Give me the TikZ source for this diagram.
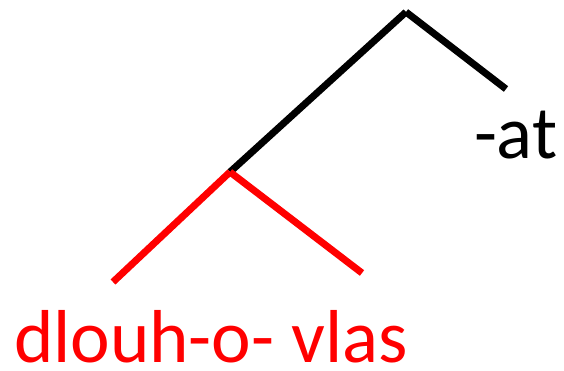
\documentclass[tikz,border=0pt]{standalone}
\usepackage{fontspec}
\setmainfont{Carlito}
\begin{document}
\begin{tikzpicture}[x=1pt,y=-1pt,
  branch/.style={line width=7pt,line cap=butt},
  lbl/.style={inner sep=0pt,outer sep=0pt,text depth=0pt,font=\fontsize{75}{80}\selectfont,anchor=base west}]
\useasboundingbox (0,0) rectangle (564,370);
\coordinate (top) at (406,12);
\coordinate (atend) at (506,89);
\coordinate (mid) at (230,172);
\coordinate (leftleaf) at (113,282);
\coordinate (rightleaf) at (362,273);
\draw[branch,black] (mid) -- (top);
\draw[branch,black] (top) -- (atend);
\draw[branch,red] (leftleaf) -- (mid);
\draw[branch,red] (mid) -- (rightleaf);
\node[lbl] (at) at (474,158) {-at};
\node[lbl,text=red] (words) at (14,362) {dlouh-o- vlas};
\end{tikzpicture}
\end{document}
